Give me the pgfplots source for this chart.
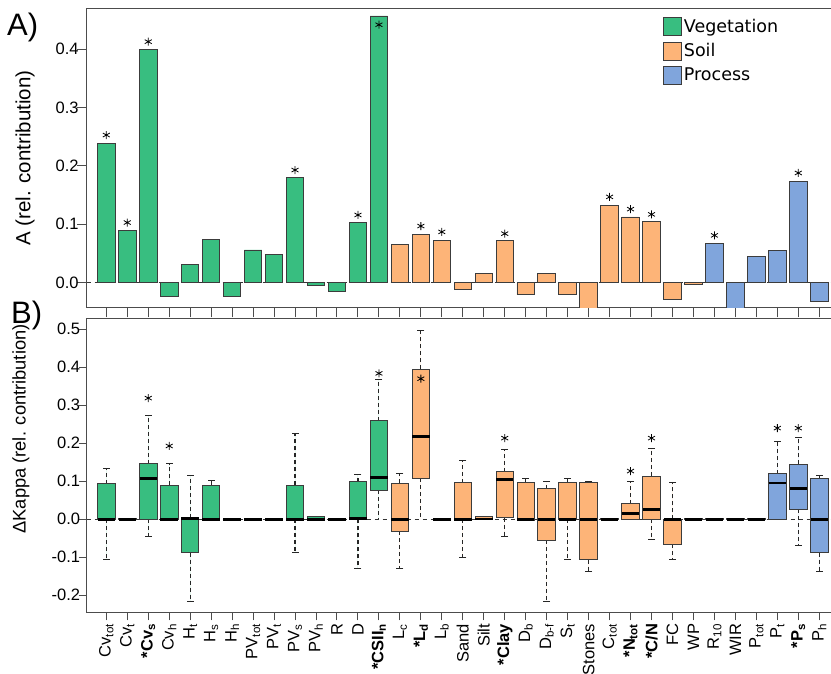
\documentclass[border=0pt]{standalone}
\usepackage{fontspec}
\setmainfont{Liberation Sans}
\newfontfamily\dejavu{DejaVu Sans}
\usepackage{pgfplots}
\pgfplotsset{compat=1.18}
\usepgfplotslibrary{statistics}

\definecolor{veg}{HTML}{38BE80}
\definecolor{soil}{HTML}{FDB478}
\definecolor{proc}{HTML}{80A5DC}
\definecolor{edge}{HTML}{3C3C3C}

\pgfplotsset{sq/.style={legend image code/.code={\draw[fill=#1,draw=edge,line width=0.9pt] (0pt,-9pt) rectangle (18pt,9pt);}}}

\newcommand{\bx}[7]{\addplot[forget plot, fill=#7, draw=edge, line width=0.9pt,
  boxplot prepared={draw direction=y, draw position=#1, lower whisker=#2, lower quartile=#3, median=#4,
  upper quartile=#5, upper whisker=#6, box extend=0.833, whisker extend=0}] coordinates {};}

\begin{document}
\begin{tikzpicture}
\useasboundingbox (0,0) rectangle (831pt,674pt);

% ---------------- Panel A ----------------
\begin{axis}[
  scale only axis, width=752.2pt, height=299pt,
  at={(86.7pt,366pt)}, anchor=south west,
  xmin=-0.935, xmax=34.935, ymin=-0.0434, ymax=0.469,
  xtick={0,...,34}, xticklabels={},
  ytick={0,0.1,0.2,0.3,0.4}, yticklabels={0.0,0.1,0.2,0.3,0.4},
  tick align=outside, xtick pos=bottom, ytick pos=left,
  major tick length=9.5pt,
  axis line style={draw=black!70, line width=1pt},
  tick style={draw=black!70, line width=1pt},
  yticklabel style={font=\fontsize{16.5}{18}\selectfont, anchor=east, xshift=5pt},
  legend style={draw=none, fill=none, inner sep=0pt, outer sep=0pt,
    at={(axis cs:26.57,0.4545)}, anchor=north west,
    font=\dejavu\fontsize{17.5}{20}\selectfont, nodes={inner sep=1.5pt}, row sep=5.2pt},
  legend cell align=left,
]
\addplot[forget plot, dash pattern=on 4pt off 4pt, black!80, line width=0.9pt]
  coordinates {(-0.935,0) (34.935,0)};
\addplot[forget plot, ybar, bar width=0.833, bar shift=0pt, fill=veg, draw=edge, line width=0.9pt]
  coordinates {(0,0.239) (1,0.090) (2,0.400) (3,-0.024) (4,0.031) (5,0.074) (6,-0.023)
  (7,0.056) (8,0.048) (9,0.180) (10,-0.005) (11,-0.015) (12,0.1036) (13,0.457)};
\addplot[forget plot, ybar, bar width=0.833, bar shift=0pt, fill=soil, draw=edge, line width=0.9pt]
  coordinates {(14,0.065) (15,0.082) (16,0.073) (17,-0.011) (18,0.0165) (19,0.0717)
  (20,-0.021) (21,0.0165) (22,-0.021) (23,-0.05) (24,0.132) (25,0.1126) (26,0.1046)
  (27,-0.0296) (28,-0.0035)};
\addplot[forget plot, ybar, bar width=0.833, bar shift=0pt, fill=proc, draw=edge, line width=0.9pt]
  coordinates {(29,0.0666) (30,-0.05) (31,0.045) (32,0.0557) (33,0.174) (34,-0.033)};
\addplot[forget plot, only marks, mark=asterisk, mark size=4pt, mark options={line width=0.8pt, black}]
  coordinates {(0,0.253) (1,0.103) (2,0.413) (9,0.193) (12,0.116) (13,0.442)
  (15,0.097) (16,0.087) (19,0.084) (24,0.147) (25,0.126) (26,0.117) (29,0.081) (33,0.188)};
\addlegendimage{sq=veg}\addlegendentry{Vegetation}
\addlegendimage{sq=soil}\addlegendentry{Soil}
\addlegendimage{sq=proc}\addlegendentry{Process}
\end{axis}

% ---------------- Panel B ----------------
\begin{axis}[
  scale only axis, width=752.2pt, height=294pt,
  at={(86.7pt,61.7pt)}, anchor=south west,
  xmin=-0.935, xmax=34.935, ymin=-0.2447, ymax=0.529,
  xtick={0,...,34},
  xticklabels={Cv\textsubscript{tot}, Cv\textsubscript{t}, \textbf{*Cv\textsubscript{s}}, Cv\textsubscript{h},
    H\textsubscript{t}, H\textsubscript{s}, H\textsubscript{h}, PV\textsubscript{tot}, PV\textsubscript{t},
    PV\textsubscript{s}, PV\textsubscript{h}, R, D, \textbf{*CSII\textsubscript{n}}, L\textsubscript{c},
    \textbf{*L\textsubscript{d}}, L\textsubscript{b}, Sand, Silt, \textbf{*Clay}, D\textsubscript{b},
    D\textsubscript{b-f}, S\textsubscript{t}, Stones, C\textsubscript{tot}, \textbf{*N\textsubscript{tot}},
    \textbf{*C/N}, FC, WP, R\textsubscript{10}, WIR, P\textsubscript{tot}, P\textsubscript{t},
    \textbf{*P\textsubscript{s}}, P\textsubscript{h}},
  ytick={-0.2,-0.1,0,0.1,0.2,0.3,0.4,0.5},
  yticklabels={-0.2,-0.1,0.0,0.1,0.2,0.3,0.4,0.5},
  tick align=outside, xtick pos=bottom, ytick pos=left,
  major tick length=8pt,
  axis line style={draw=black!70, line width=1pt},
  tick style={draw=black!70, line width=1pt},
  yticklabel style={font=\fontsize{16.5}{18}\selectfont, anchor=east, xshift=5pt},
  xticklabel style={font=\fontsize{16.5}{18}\selectfont, rotate=90, anchor=east},
  boxplot/draw direction=y,
  boxplot/every median/.style={line width=2.7pt, draw=black},
  boxplot/every whisker/.style={dash pattern=on 4pt off 3pt, line width=1.1pt, draw=black!85},
]
\addplot[forget plot, dash pattern=on 4pt off 4pt, black!80, line width=0.9pt]
  coordinates {(-0.935,0) (34.935,0)};
% pos, lower whisker, lower quartile, median, upper quartile, upper whisker
\bx{0}{-0.106}{0}{0}{0.0937}{0.133}{veg}
\bx{1}{0}{0}{0}{0.002}{0.002}{veg}
\bx{2}{-0.0455}{0}{0.108}{0.146}{0.273}{veg}
\bx{3}{0}{0}{0}{0.0893}{0.146}{veg}
\bx{4}{-0.215}{-0.0875}{0.002}{0.004}{0.1156}{veg}
\bx{5}{0}{0}{0}{0.0893}{0.1025}{veg}
\bx{6}{0}{0}{0}{0.002}{0.002}{veg}
\bx{7}{0}{0}{0}{0.002}{0.002}{veg}
\bx{8}{0}{0}{0}{0.002}{0.002}{veg}
\bx{9}{-0.0875}{0}{0}{0.0893}{0.225}{veg}
\bx{10}{0}{0}{0}{0.0079}{0.0079}{veg}
\bx{11}{0}{0}{0}{0.002}{0.002}{veg}
\bx{12}{-0.13}{0}{0.002}{0.099}{0.117}{veg}
\bx{13}{0}{0.076}{0.1095}{0.26}{0.368}{veg}
\bx{14}{-0.13}{-0.0315}{0}{0.0955}{0.12}{soil}
\bx{15}{0}{0.1086}{0.2173}{0.395}{0.498}{soil}
\bx{16}{0}{0}{0}{0.002}{0.002}{soil}
\bx{17}{-0.1007}{0}{0}{0.0963}{0.155}{soil}
\bx{18}{0}{0}{0.001}{0.0088}{0.0088}{soil}
\bx{19}{-0.0455}{0.0044}{0.104}{0.125}{0.184}{soil}
\bx{20}{-0.002}{-0.002}{-0.001}{0.0963}{0.1086}{soil}
\bx{21}{-0.2155}{-0.055}{0}{0.0806}{0.1}{soil}
\bx{22}{-0.106}{0}{0}{0.0963}{0.1086}{soil}
\bx{23}{-0.1366}{-0.106}{0}{0.0963}{0.1}{soil}
\bx{24}{0}{0}{0}{0.003}{0.003}{soil}
\bx{25}{0}{0}{0.015}{0.041}{0.1}{soil}
\bx{26}{-0.0534}{0}{0.0254}{0.114}{0.187}{soil}
\bx{27}{-0.106}{-0.0657}{0}{0}{0.0963}{soil}
\bx{28}{0}{0}{0}{0.002}{0.002}{soil}
\bx{29}{0}{0}{0}{0.002}{0.002}{proc}
\bx{30}{0}{0}{0}{0.002}{0.002}{proc}
\bx{31}{0}{0}{0}{0.002}{0.002}{proc}
\bx{32}{0}{0}{0.0955}{0.12}{0.2058}{proc}
\bx{33}{-0.068}{0.0271}{0.0806}{0.1445}{0.2146}{proc}
\bx{34}{-0.1366}{-0.0875}{0}{0.1086}{0.114}{proc}
% whisker caps
\addplot[forget plot, only marks, mark=-, mark size=3.5pt, mark options={line width=1pt, black!85}]
  coordinates {(0,-0.106) (0,0.133) (2,-0.0455) (2,0.273) (3,0.146) (4,-0.215) (4,0.1156)
  (5,0.1025) (9,-0.0875) (9,0.225) (12,-0.13) (12,0.117) (13,0.368) (14,-0.13) (14,0.12)
  (15,0.498) (17,-0.1007) (17,0.155) (19,-0.0455) (19,0.184) (20,0.1086) (21,-0.2155) (21,0.1)
  (22,-0.106) (22,0.1086) (23,-0.1366) (23,0.1) (25,0.1) (26,-0.0534) (26,0.187)
  (27,-0.106) (27,0.0963) (32,0.2058) (33,-0.068) (33,0.2146) (34,-0.1366) (34,0.114)};
% significance stars
\addplot[forget plot, only marks, mark=asterisk, mark size=4pt, mark options={line width=0.8pt, black}]
  coordinates {(2,0.319) (3,0.193) (13,0.384) (15,0.370) (19,0.2137) (25,0.127)
  (26,0.2137) (32,0.240) (33,0.240)};
\end{axis}

% axis titles and panel letters
\node[rotate=90, font=\fontsize{20.5}{22}\selectfont] at (25pt,516pt) {A (rel. contribution)};
\node[rotate=90, font=\fontsize{18.3}{20}\selectfont] at (21pt,245pt) {ΔKappa (rel. contribution)};
\node[anchor=base west, inner sep=0pt, font=\fontsize{31}{31}\selectfont] at (7pt,638pt) {A)};
\node[anchor=base west, inner sep=0pt, font=\fontsize{31}{31}\selectfont] at (11pt,350pt) {B)};
\end{tikzpicture}
\end{document}
